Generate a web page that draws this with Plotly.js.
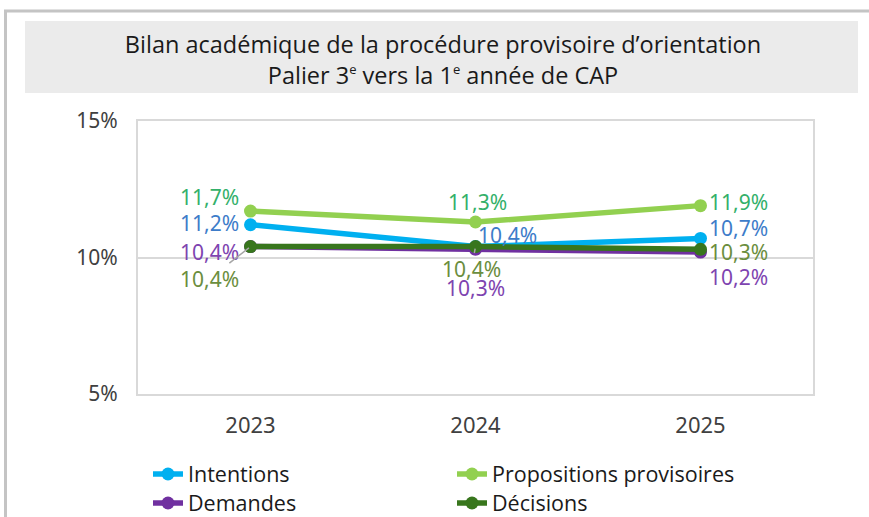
<!DOCTYPE html>
<html>
<head>
<meta charset="utf-8">
<script src="https://cdn.plot.ly/plotly-3.0.1.min.js"></script>
<style>body{margin:0;background:#fff;} #chart{width:869px;height:517px;}</style>
</head>
<body>
<div id="chart"></div>
<script>
var years = ['2023', '2024', '2025'];
var intentions = [11.2, 10.4, 10.7];
var propositions = [11.7, 11.3, 11.9];
var demandes = [10.4, 10.3, 10.2];
var decisions = [10.4, 10.4, 10.3];
var seriesNames = ['Intentions', 'Propositions provisoires', 'Demandes', 'Décisions'];
var yTickVals = [5, 10, 15];
var yTickText = ['5%', '10%', '15%'];

var lineColors = ['#00b0f0', '#92d050', '#7030a0', '#38761d'];
var labelColors = ['#3d7cc9', '#33b06a', '#7e44b0', '#6b8e3e'];
var seriesVals = [intentions, propositions, demandes, decisions];
var legendRef = ['legend', 'legend', 'legend2', 'legend2'];

var traces = seriesVals.map(function (vals, i) {
  return {
    x: years, y: vals, name: seriesNames[i], type: 'scatter', mode: 'lines+markers',
    line: {color: lineColors[i], width: 5.5},
    marker: {color: lineColors[i], size: 13},
    legend: legendRef[i], hoverinfo: 'skip'
  };
});

// label offsets [xshift, yshift] per series per year
var offsets = [
  [[-41, 2], [32, 12], [38, 10]],
  [[-41, 14], [2, 20], [38, 4]],
  [[-41, -5], [0, -39], [38, -25]],
  [[-41, -32], [-4, -22], [38, -3]]
];
// leader lines (series index, year index)
var leaders = [[3, 0], [3, 1]];
function fmt(v) { return v.toFixed(1).replace('.', ',') + '%'; }
function hasLeader(i, j) {
  return leaders.some(function (l) { return l[0] === i && l[1] === j; });
}

var annotations = [];
seriesVals.forEach(function (vals, i) {
  vals.forEach(function (v, j) {
    var o = offsets[i][j];
    var a = {
      x: j, y: v, xref: 'x', yref: 'y', text: fmt(v),
      font: {family: '"Noto Sans", sans-serif', size: 21, color: labelColors[i]}
    };
    if (hasLeader(i, j)) {
      a.showarrow = true; a.ax = o[0]; a.ay = -o[1];
      a.arrowhead = 0; a.arrowwidth = 1.5; a.arrowcolor = '#a6a6a6'; a.standoff = 2;
    } else {
      a.showarrow = false; a.xshift = o[0]; a.yshift = o[1];
    }
    annotations.push(a);
  });
});

function px(x) { return (x - 138) / 675; }
function py(y) { return (394 - y) / 273; }

var legendFont = {family: '"Open Sans", sans-serif', size: 21.5, color: '#1a1a1a'};

var layout = {
  width: 869, height: 517,
  margin: {l: 138, r: 56, t: 121, b: 123},
  paper_bgcolor: '#ffffff', plot_bgcolor: '#ffffff',
  showlegend: true,
  title: {
    text: 'Bilan académique de la procédure provisoire d\u2019orientation<br>Palier 3<sup><span style="font-size:13px">e</span></sup> vers la 1<sup><span style="font-size:13px">e</span></sup> année de CAP',
    x: 443 / 869, xref: 'container', xanchor: 'center',
    y: 1 - 53 / 517, yref: 'container', yanchor: 'middle',
    font: {family: '"Open Sans", sans-serif', size: 23.5, color: '#1a1a1a'}
  },
  xaxis: {
    type: 'category', range: [-0.5, 2.5], showgrid: false, zeroline: false,
    showline: true, linecolor: '#d9d9d9', linewidth: 2, mirror: true,
    ticks: '', tickfont: {family: '"Noto Sans", sans-serif', size: 22, color: '#404040'},
    ticklabelstandoff: 11, fixedrange: true
  },
  yaxis: {
    range: [5, 15], tickvals: yTickVals, ticktext: yTickText,
    showgrid: true, gridcolor: '#d9d9d9', gridwidth: 2, zeroline: false,
    showline: true, linecolor: '#d9d9d9', linewidth: 2, mirror: true,
    ticks: '', tickfont: {family: '"Noto Sans", sans-serif', size: 21, color: '#404040'},
    ticklabelstandoff: 14, fixedrange: true
  },
  legend: {
    orientation: 'h', xref: 'container', yref: 'container',
    x: 148 / 869, xanchor: 'left', y: 1 - 474 / 517, yanchor: 'middle',
    entrywidth: 259, font: legendFont, bgcolor: 'rgba(0,0,0,0)'
  },
  legend2: {
    orientation: 'h', xref: 'container', yref: 'container',
    x: 148 / 869, xanchor: 'left', y: 1 - 503 / 517, yanchor: 'middle',
    entrywidth: 259, font: legendFont, bgcolor: 'rgba(0,0,0,0)'
  },
  shapes: [
    {type: 'rect', xref: 'paper', yref: 'paper', x0: px(25), x1: px(858), y0: py(93), y1: py(21),
     fillcolor: '#ebebeb', line: {width: 0}, layer: 'below'},
    {type: 'line', xref: 'paper', yref: 'paper', x0: px(4), x1: px(869), y0: py(11), y1: py(11),
     line: {color: '#c4c4c4', width: 3}},
    {type: 'line', xref: 'paper', yref: 'paper', x0: px(5.5), x1: px(5.5), y0: py(10), y1: py(517),
     line: {color: '#c4c4c4', width: 3}}
  ],
  annotations: annotations
};

Plotly.newPlot('chart', traces, layout, {displayModeBar: false, staticPlot: true});
</script>
</body>
</html>
